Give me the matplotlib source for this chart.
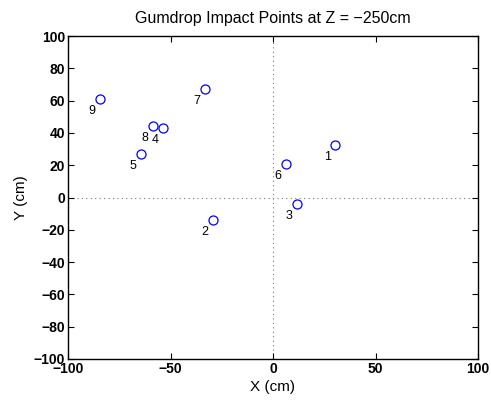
import matplotlib.pyplot as plt

plt.rcParams['font.family'] = ['Liberation Sans', 'DejaVu Sans']

# impact points (cm)
x = [30.4, -29.3, 11.7, -53.7, -64.5, 6.2, -33.3, -58.4, -84.5]
y = [32.3, -13.9, -4.2, 42.8, 26.7, 20.7, 67.4, 44.3, 60.8]
labels = ['1', '2', '3', '4', '5', '6', '7', '8', '9']

fig = plt.figure(figsize=(4.91, 4.0), dpi=100)
ax = fig.add_axes([68 / 491, 41 / 400, 410 / 491, 323 / 400])

ax.axhline(0, color='#777777', linestyle=(0, (1, 3)), linewidth=0.8, zorder=0)
ax.axvline(0, color='#777777', linestyle=(0, (1, 3)), linewidth=0.8, zorder=0)

ax.plot(x, y, 'o', markerfacecolor='none', markeredgecolor='blue',
        markersize=6.5, markeredgewidth=0.9)
for xi, yi, lab in zip(x, y, labels):
    ax.annotate(lab, (xi, yi), xytext=(-8, -12), textcoords='offset pixels',
                ha='center', va='center', fontsize=9)

ax.set_xlim(-100, 100)
ax.set_ylim(-100, 100)
ax.set_xticks(range(-100, 101, 50))
ax.set_yticks(range(-100, 101, 20))
ax.tick_params(direction='in', top=True, right=True, length=4, width=0.8,
               labelsize=10, pad=2)
for t in ax.get_xticklabels() + ax.get_yticklabels():
    t.set_fontweight('bold')
for s in ax.spines.values():
    s.set_linewidth(1.0)

ax.set_xlabel('X (cm)', fontsize=11, labelpad=3)
ax.set_ylabel('Y (cm)', fontsize=11, labelpad=4)
ax.set_title('Gumdrop Impact Points at Z = \u2212250cm', fontsize=11.5, pad=9)

fig.savefig('out.png', dpi=100)
